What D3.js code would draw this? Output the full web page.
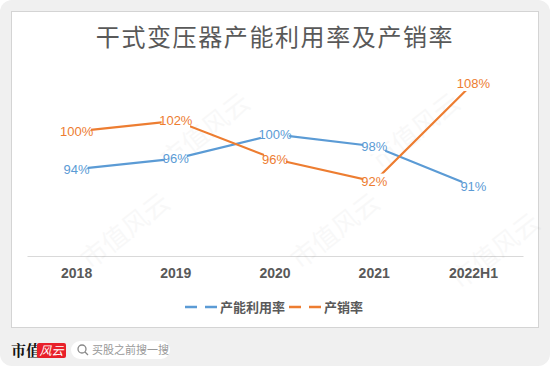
<!DOCTYPE html>
<html><head><meta charset="utf-8">
<script src="https://cdn.jsdelivr.net/npm/d3@7"></script>
<style>html,body{margin:0;padding:0;background:#fff;overflow:hidden}</style>
</head><body>
<script>
const categories = ["2018","2019","2020","2021","2022H1"];
const utilization = [94.0, 95.7, 99.6, 97.7, 91.2];
const salesRatio = [100.1, 101.8, 95.6, 92.0, 107.9];
const seriesNames = ["产能利用率","产销率"];
const title = "干式变压器产能利用率及产销率";

const W = 550, H = 367;
const svg = d3.select("body").append("svg").attr("width", W).attr("height", H);
const CJK = "'Noto Sans CJK SC','Noto Sans',sans-serif";

// outer background
svg.append("rect").attr("x",0).attr("y",0).attr("width",W).attr("height",H-1)
  .attr("rx",12).attr("fill","#f0f0f0");
// panel
svg.append("rect").attr("x",11.5).attr("y",11.5).attr("width",527).attr("height",316)
  .attr("fill","#fff").attr("stroke","#d4d4d4").attr("stroke-width",1);

// title
svg.append("text").attr("x",275).attr("y",46).attr("text-anchor","middle")
  .attr("font-family",CJK).attr("font-size",24).attr("letter-spacing",1.6)
  .attr("fill","#595959").text(title);

const x = d3.scaleBand().domain(categories).range([27,523]);
const y = d3.scaleLinear().domain([80,110]).range([256,70]);

// axis
const ax = svg.append("g").attr("transform","translate(0,256)")
  .call(d3.axisBottom(x).tickSize(0).tickPadding(12));
ax.select(".domain").attr("stroke","#d9d9d9").attr("stroke-width",1.2);
ax.selectAll("text").attr("font-family","'Liberation Sans',Arial,sans-serif")
  .attr("font-size",14).attr("font-weight","bold").attr("fill","#595959");

const colors = ["#5b9bd5","#ed7d31"];
const data = [utilization, salesRatio];
const line = d3.line().x((d,i)=>x(categories[i])+x.bandwidth()/2).y(d=>y(d));

// watermarks (faint, inside panel)
const wm = svg.append("g").attr("pointer-events","none");
const wmPos = [[170,170],[380,170],[90,270],[300,270],[460,290]];
wmPos.forEach(p=>{
  wm.append("text").attr("transform",`translate(${p[0]},${p[1]}) rotate(-38)`)
    .attr("font-family","'Noto Sans CJK SC',serif").attr("font-size",26)
    .attr("fill","#000").attr("opacity",0.025).text("市值风云");
});

data.forEach((vals,k)=>{
  svg.append("path").datum(vals).attr("d",line).attr("fill","none")
    .attr("stroke",colors[k]).attr("stroke-width",2.2);
});
const fmt = v => d3.format(".0f")(v) + "%";
data.forEach((vals,k)=>{
  const g = svg.append("g");
  vals.forEach((v,i)=>{
    const cx = x(categories[i])+x.bandwidth()/2, cy = y(v);
    const t = fmt(v);
    const w = t.length*6.6+2;
    g.append("rect").attr("x",cx-w/2).attr("y",cy-8).attr("width",w).attr("height",16).attr("fill","#fff");
    g.append("text").attr("x",cx).attr("y",cy+4.5).attr("text-anchor","middle")
      .attr("font-family","'Liberation Sans',Arial,sans-serif").attr("font-size",13)
      .attr("fill",colors[k]).text(t);
  });
});

// legend
const legX = [185, 289];
seriesNames.forEach((n,k)=>{
  const lg = svg.append("g").attr("transform",`translate(${legX[k]},307)`);
  lg.append("line").attr("x1",0).attr("x2",32).attr("y1",0).attr("y2",0)
    .attr("stroke",colors[k]).attr("stroke-width",2.5).attr("stroke-dasharray","12,8");
  lg.append("text").attr("x",35).attr("y",5).attr("font-family",CJK).attr("font-size",13)
    .attr("font-weight","bold").attr("fill","#595959").text(n);
});

// footer
svg.append("text").attr("x",11).attr("y",356).attr("font-family","'Noto Serif CJK SC','Noto Sans CJK SC',serif")
  .attr("font-size",15).attr("font-weight","bold").attr("fill","#111").text("市值");
svg.append("rect").attr("x",37).attr("y",343).attr("width",29).attr("height",15).attr("rx",2).attr("fill","#e8202a");
svg.append("text").attr("x",51.5).attr("y",355).attr("text-anchor","middle").attr("font-family",CJK)
  .attr("font-size",12).attr("font-style","italic").attr("fill","#fff").text("风云");
svg.append("rect").attr("x",71).attr("y",341).attr("width",99).attr("height",18).attr("rx",9).attr("fill","#fff");
svg.append("circle").attr("cx",82).attr("cy",349).attr("r",4).attr("fill","none").attr("stroke","#888").attr("stroke-width",1.3);
svg.append("line").attr("x1",85).attr("y1",352).attr("x2",88).attr("y2",355).attr("stroke","#888").attr("stroke-width",1.3);
svg.append("text").attr("x",92).attr("y",354).attr("font-family",CJK).attr("font-size",11).attr("fill","#999").text("买股之前搜一搜");
</script>
</body></html>
